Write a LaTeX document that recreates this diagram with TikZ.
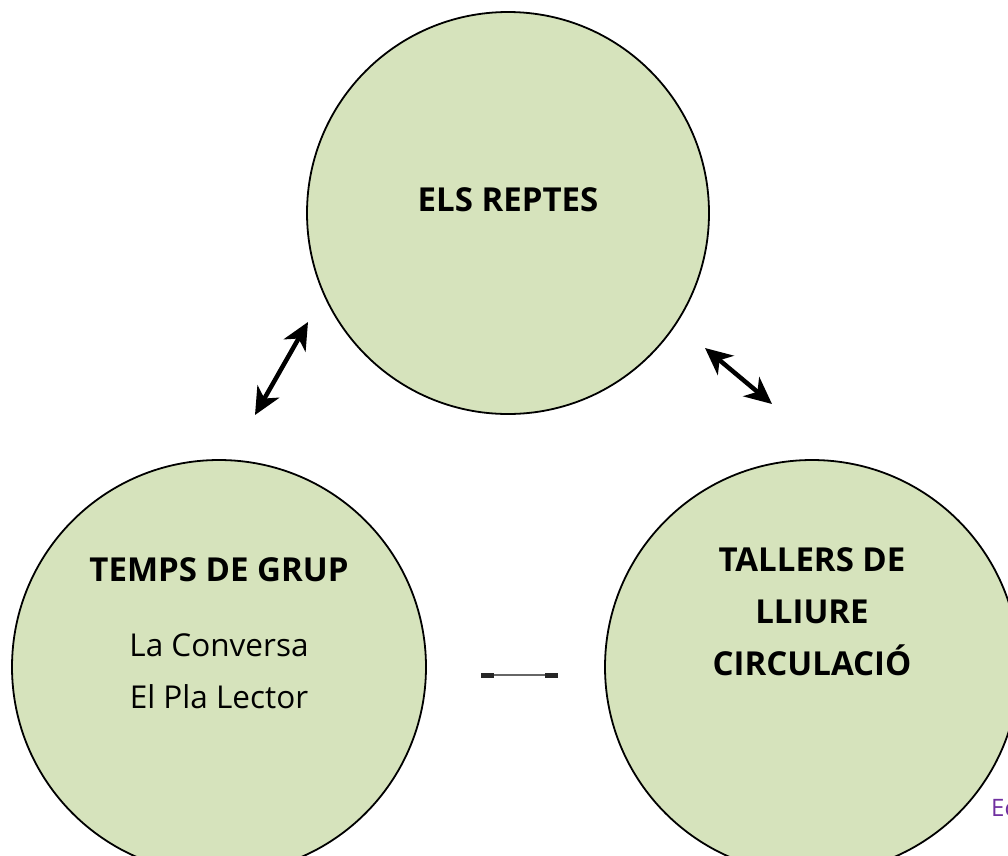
\documentclass[tikz,border=0pt]{standalone}
\usepackage{fontspec}
\setmainfont{Open Sans}
\usetikzlibrary{arrows.meta}

\definecolor{circlegreen}{HTML}{D6E3BC}
\definecolor{notepurple}{HTML}{7030A0}

\begin{document}
\begin{tikzpicture}[x = 1pt, y = -1pt]
\tikzstyle{CircleStyle}=[
shape = circle,
draw,
line width = 1.8pt,
fill = circlegreen,
inner sep = 0pt]
\tikzstyle{TitleStyle}=[font = \fontsize{33}{38}\selectfont\bfseries]
\tikzstyle{ItemStyle}=[font = \fontsize{31.5}{36}\selectfont]
\tikzstyle{BigArrow}=[line width = 4.5pt, {Stealth[length = 27pt, width = 25pt, inset = 8pt]}-{Stealth[length = 27pt, width = 25pt, inset = 8pt]}]
\useasboundingbox (0, 0) rectangle (1008, 855);
\fill[white] (0, 0) rectangle (1008, 855);
% circles
\node[CircleStyle, minimum size = 402pt] (reptes) at (508, 213) {};
\node[CircleStyle, minimum size = 414pt] (grup) at (219, 667) {};
\node[CircleStyle, minimum size = 414pt] (tallers) at (812, 667) {};
% texts
\node[TitleStyle] (reptesT) at (508, 200) {ELS REPTES};
\node[TitleStyle] (grupT) at (219, 570) {TEMPS DE GRUP};
\node[ItemStyle] (conversa) at (219, 645) {La Conversa};
\node[ItemStyle] (lector) at (219, 697) {El Pla Lector};
\node[TitleStyle, align = center] (tallersT) at (812, 612) {TALLERS DE\\[14pt]LLIURE\\[14pt]CIRCULACIÓ};
\node[font = \fontsize{24}{28}\selectfont, text = notepurple, anchor = west, inner sep = 0pt] (note) at (991, 808) {Ec};
% arrow ends
\coordinate (a1) at (255, 415);
\coordinate (a2) at (308, 322);
\coordinate (b1) at (705, 348);
\coordinate (b2) at (772, 404);
\coordinate (c1) at (481, 675);
\coordinate (c2) at (558, 675);
\draw[BigArrow] (a1) -- (a2);
\draw[BigArrow] (b1) -- (b2);
\draw[line width = 1.3pt, black!60, {Rectangle[length = 13pt, width = 5pt, black!85]}-{Rectangle[length = 13pt, width = 5pt, black!85]}] (c1) -- (c2);
\end{tikzpicture}
\end{document}
